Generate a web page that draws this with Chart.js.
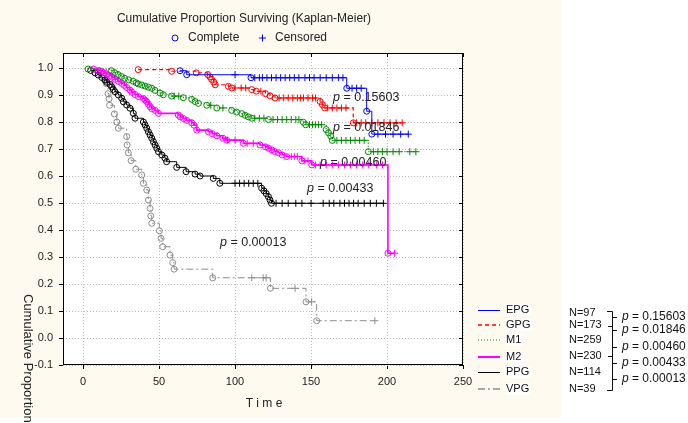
<!DOCTYPE html>
<html>
<head>
<meta charset="utf-8">
<script src="https://cdn.jsdelivr.net/npm/chart.js@4.4.1/dist/chart.umd.min.js"></script>
<style>
  body { margin: 0; background: #ffffff; }
  #wrap { width: 688px; height: 423px; }
</style>
</head>
<body>
<div id="wrap"><canvas id="km" width="688" height="423"></canvas></div>
<script>
// groups and their sizes
var groupNames = ['EPG', 'GPG', 'M1', 'M2', 'PPG', 'VPG'];
var groupN = [97, 173, 259, 230, 114, 39];
var pairP = ['0.15603', '0.01846', '0.00460', '0.00433', '0.00013'];

// tick labels
var xTicks = [0, 50, 100, 150, 200, 250];
var yTicks = [-0.1, 0.0, 0.1, 0.2, 0.3, 0.4, 0.5, 0.6, 0.7, 0.8, 0.9, 1.0];

// EPG
var epgTime = [63.8, 68.2, 110.5, 173.5, 186.6, 190];
var epgSurv = [0.990, 0.975, 0.964, 0.925, 0.840, 0.755];
var epgCens = [100, 113, 116, 118, 121, 124, 127, 130, 133, 136, 139, 142, 146, 149, 152, 156, 160, 164, 168, 171, 177, 180, 183, 194, 199, 204, 209, 214];

// GPG
var gpgTime = [36.3, 58.3, 74.5, 82, 83.5, 84.6, 86, 87, 95.6, 97.8, 111, 114, 120, 123, 126.3, 156, 157.5, 159, 177.8];
var gpgSurv = [0.994, 0.988, 0.982, 0.976, 0.967, 0.958, 0.948, 0.938, 0.932, 0.926, 0.920, 0.914, 0.905, 0.897, 0.889, 0.876, 0.864, 0.852, 0.797];
var gpgCens = [100, 104, 107, 117, 129, 132, 135, 138, 141, 143, 145, 148, 151, 153, 161, 164, 167, 170, 173, 180, 183, 186, 190, 194, 198, 202, 206, 210];

// M1
var m1Time = [3.3, 18.6, 20.8, 23, 25.2, 27.4, 30, 32.9, 35, 36.4, 38.6, 40.8, 43, 45.2, 47.4, 50.7, 52.8, 58.3, 66, 71.5, 73.7, 75.9, 81.4, 88, 97.8, 101, 104.4, 106.6, 108.8, 111, 122, 145, 146.5, 160, 161.5, 163, 164, 187.7];
var m1Surv = [0.996, 0.990, 0.983, 0.976, 0.969, 0.962, 0.956, 0.951, 0.945, 0.941, 0.937, 0.933, 0.929, 0.925, 0.917, 0.907, 0.901, 0.896, 0.890, 0.884, 0.876, 0.869, 0.862, 0.852, 0.843, 0.837, 0.831, 0.825, 0.819, 0.814, 0.809, 0.799, 0.790, 0.772, 0.760, 0.748, 0.732, 0.690];
var m1Cens = [60, 63, 84, 92, 113, 116, 119, 125, 128, 131, 134, 137, 140, 142, 149, 151, 153, 155, 157, 167, 170, 173, 176, 179, 182, 185, 191, 194, 197, 200, 204, 208, 215, 219];

// M2
var m2Time = [6.8, 10, 12.3, 14, 15.6, 17.5, 18.9, 21, 23, 25.4, 27, 28.7, 30.9, 32, 34.2, 36.4, 39.7, 40.8, 41.9, 43, 44.1, 45.2, 47.4, 49.6, 62.7, 64, 66, 68.2, 71.5, 73, 74.8, 82.5, 85, 88, 92, 94.5, 105.5, 116.4, 120, 122, 124.1, 126, 128.5, 131, 134, 144, 150.5, 200.6];
var m2Surv = [0.996, 0.991, 0.987, 0.982, 0.978, 0.972, 0.966, 0.958, 0.951, 0.943, 0.936, 0.928, 0.918, 0.910, 0.902, 0.894, 0.887, 0.881, 0.875, 0.866, 0.857, 0.849, 0.843, 0.832, 0.826, 0.819, 0.813, 0.806, 0.797, 0.788, 0.770, 0.764, 0.757, 0.749, 0.740, 0.733, 0.721, 0.715, 0.708, 0.703, 0.697, 0.691, 0.686, 0.678, 0.672, 0.656, 0.641, 0.314];
var m2Cens = [95, 100, 108, 112, 137, 139, 141, 146, 148, 153, 156, 160, 164, 168, 172, 176, 180, 184, 188, 193, 197, 205];

// PPG
var ppgTime = [5, 7.9, 10, 12.3, 14.5, 15.6, 17.8, 18.9, 19.9, 21, 23.2, 25.4, 26.5, 28.7, 30.9, 33.1, 34.2, 39.7, 40.8, 41.9, 43, 44.1, 45.2, 46.3, 47.4, 48.5, 49.6, 51.8, 53.9, 55, 61.6, 67.8, 73.7, 77, 85.7, 90, 117.5, 119, 120.5, 122, 123, 124];
var ppgSurv = [0.991, 0.982, 0.974, 0.965, 0.956, 0.947, 0.939, 0.930, 0.921, 0.912, 0.900, 0.888, 0.875, 0.863, 0.851, 0.832, 0.814, 0.800, 0.789, 0.777, 0.764, 0.752, 0.740, 0.727, 0.715, 0.703, 0.690, 0.678, 0.666, 0.653, 0.632, 0.616, 0.607, 0.600, 0.591, 0.573, 0.555, 0.545, 0.535, 0.523, 0.511, 0.499];
var ppgCens = [100, 103, 106, 109, 112, 115, 127, 131, 135, 140, 144, 150, 158, 162, 165, 169, 172, 175, 178, 181, 185, 189, 193, 197.6];

// VPG
var vpgTime = [11, 13.2, 14.3, 15.3, 16.4, 17.1, 17.5, 20.6, 22.2, 23.2, 28.7, 29.0, 29.8, 31.6, 34.7, 38.6, 39.7, 41.9, 43, 44.1, 44.6, 45.2, 50.2, 51.3, 52.4, 57.2, 59, 59.9, 85.3, 123.3, 146.7, 153.7];
var vpgSurv = [0.990, 0.970, 0.954, 0.942, 0.905, 0.886, 0.862, 0.830, 0.800, 0.777, 0.746, 0.715, 0.686, 0.657, 0.625, 0.604, 0.573, 0.548, 0.511, 0.480, 0.452, 0.425, 0.397, 0.369, 0.338, 0.307, 0.279, 0.255, 0.223, 0.184, 0.134, 0.064];
var vpgCens = [111, 118.5, 120.5, 139.5, 150.4, 192];

var lineColors = ['#0000ff', '#ff0000', '#008a00', '#ff00ff', '#000000', '#8c8c8c'];
var lineDash = [[], [4, 3], [1, 2], [], [], [7, 3, 2, 3]];
var lineWidths = [1, 1.2, 1.2, 1.6, 1, 1];
var legendWidths = [1, 1.6, 1.2, 2, 1, 1.4];

// merge events and censored times into one step series
function kmPoints(times, surv, cens) {
    var all = [];
    for (var i = 0; i < times.length; i++) all.push({ x: times[i], y: surv[i], kind: 'event' });
    for (var j = 0; j < cens.length; j++) all.push({ x: cens[j], y: null, kind: 'cens' });
    all.sort(function (a, b) { return a.x - b.x || (a.kind === 'event' ? -1 : 1); });
    var s = 1;
    all.forEach(function (p) {
        if (p.kind === 'event') s = p.y; else p.y = s;
    });
    return all;
}

var series = [
    kmPoints(epgTime, epgSurv, epgCens),
    kmPoints(gpgTime, gpgSurv, gpgCens),
    kmPoints(m1Time, m1Surv, m1Cens),
    kmPoints(m2Time, m2Surv, m2Cens),
    kmPoints(ppgTime, ppgSurv, ppgCens),
    kmPoints(vpgTime, vpgSurv, vpgCens)
];

var datasets = [];
for (var k = 0; k < series.length; k++) {
    datasets.push({
        label: groupNames[k],
        data: series[k],
        stepped: true,
        borderColor: lineColors[k],
        borderWidth: lineWidths[k],
        borderDash: lineDash[k],
        pointStyle: function (c) { return c.raw && c.raw.kind === 'cens' ? 'cross' : 'circle'; },
        pointRadius: function (c) { return c.raw && c.raw.kind === 'cens' ? 3.5 : 3; },
        pointBorderWidth: 1,
        pointBorderColor: lineColors[k],
        pointBackgroundColor: 'rgba(0,0,0,0)',
        fill: false
    });
}

var FONT = '"Liberation Sans", Arial, sans-serif';

function drawCross(ctx, x, y, r, color) {
    ctx.strokeStyle = color;
    ctx.lineWidth = 1;
    ctx.setLineDash([]);
    ctx.beginPath();
    ctx.moveTo(x - r, y); ctx.lineTo(x + r, y);
    ctx.moveTo(x, y - r); ctx.lineTo(x, y + r);
    ctx.stroke();
}

function drawP(ctx, txt, x, y, size) {
    ctx.font = 'italic ' + size + 'px ' + FONT;
    ctx.fillText('p', x, y);
    var w = ctx.measureText('p').width;
    ctx.font = size + 'px ' + FONT;
    ctx.fillText(' = ' + txt, x + w, y);
}

var decor = {
    id: 'decor',
    beforeDraw: function (chart) {
        var ctx = chart.ctx, a = chart.chartArea;
        ctx.save();
        ctx.fillStyle = '#ffffff';
        ctx.fillRect(0, 0, chart.width, chart.height);
        ctx.fillStyle = '#fffaf0';
        ctx.fillRect(0, 0, 562, 417);
        ctx.fillStyle = '#ffffff';
        ctx.fillRect(a.left, a.top, a.right - a.left, a.bottom - a.top);
        ctx.restore();
    },
    afterDraw: function (chart) {
        var ctx = chart.ctx, a = chart.chartArea;
        var xs = chart.scales.x, ys = chart.scales.y;
        ctx.save();
        // frame and inner ticks on right / top
        ctx.strokeStyle = '#000';
        ctx.lineWidth = 1;
        ctx.setLineDash([]);
        ctx.strokeRect(a.left + 0.5, a.top + 0.5, a.right - a.left - 1, a.bottom - a.top - 1);
        ctx.beginPath();
        yTicks.forEach(function (v) {
            var py = Math.round(ys.getPixelForValue(v)) + 0.5;
            ctx.moveTo(a.right - 4, py); ctx.lineTo(a.right, py);
        });
        xTicks.forEach(function (v) {
            var px = Math.round(xs.getPixelForValue(v)) + 0.5;
            ctx.moveTo(px, a.top); ctx.lineTo(px, a.top + 4);
        });
        ctx.stroke();

        // title and marker legend
        ctx.fillStyle = '#222';
        ctx.font = '12px ' + FONT;
        ctx.textBaseline = 'middle';
        ctx.textAlign = 'center';
        ctx.fillText('Cumulative Proportion Surviving (Kaplan-Meier)', 244, 19);
        ctx.textAlign = 'left';
        ctx.strokeStyle = '#0000ff';
        ctx.beginPath(); ctx.arc(175, 38, 3, 0, Math.PI * 2); ctx.stroke();
        ctx.fillText('Complete', 188, 38);
        drawCross(ctx, 262.5, 38, 3.5, '#0000ff');
        ctx.fillStyle = '#222';
        ctx.fillText('Censored', 275, 38);

        // axis titles
        ctx.textAlign = 'center';
        ctx.fillText('T i m e', 264, 404);
        ctx.save();
        ctx.translate(28, 294);
        ctx.rotate(Math.PI / 2);
        ctx.textAlign = 'left';
        ctx.font = '13px ' + FONT;
        ctx.fillText('Cumulative Proportion', 0, 0);
        ctx.restore();

        // p-values inside the plot
        var inP = [[333, 98], [333, 128], [320, 163], [307, 189], [220, 243]];
        ctx.textAlign = 'left';
        ctx.fillStyle = '#222';
        for (var i = 0; i < pairP.length; i++) drawP(ctx, pairP[i], inP[i][0], inP[i][1], 12.5);

        // line legend
        var legY = [310, 325, 340, 357, 372, 389];
        ctx.font = '11px ' + FONT;
        for (var g = 0; g < groupNames.length; g++) {
            var off = legendWidths[g] === 1 ? 0.5 : 0;
            ctx.strokeStyle = lineColors[g];
            ctx.lineWidth = legendWidths[g];
            ctx.setLineDash(lineDash[g]);
            ctx.beginPath();
            ctx.moveTo(478, legY[g] + off); ctx.lineTo(500, legY[g] + off);
            ctx.stroke();
            var tw = ctx.measureText(groupNames[g]).width;
            ctx.fillStyle = '#ffffff';
            ctx.fillRect(505, legY[g] - 6, tw + 3, 12);
            ctx.fillStyle = '#111';
            ctx.fillText(groupNames[g], 506, legY[g]);
        }
        ctx.setLineDash([]);

        // N labels, bracket and pairwise p-values
        var nY = [313, 325, 340, 356, 372, 389];
        ctx.font = '11px ' + FONT;
        ctx.fillStyle = '#111';
        for (var n = 0; n < groupN.length; n++) ctx.fillText('N=' + groupN[n], 569, nY[n]);
        ctx.strokeStyle = '#111';
        ctx.lineWidth = 1;
        ctx.beginPath();
        ctx.moveTo(607, 311.5); ctx.lineTo(612.5, 311.5); ctx.lineTo(612.5, 390.5); ctx.lineTo(607, 390.5);
        [326, 356].forEach(function (yy) { ctx.moveTo(608, yy + 0.5); ctx.lineTo(612.5, yy + 0.5); });
        var pY = [317, 330, 347, 363, 379];
        pY.forEach(function (yy) { ctx.moveTo(612.5, yy + 0.5); ctx.lineTo(617, yy + 0.5); });
        ctx.stroke();
        for (var q = 0; q < pairP.length; q++) drawP(ctx, pairP[q], 622, pY[q], 12);
        ctx.restore();
    }
};

var ctx = document.getElementById('km');
var chart = new Chart(ctx, {
    type: 'line',
    data: { datasets: datasets },
    options: {
        responsive: false,
        animation: false,
        layout: { padding: { left: 0, top: 53, right: 225, bottom: 0 } },
        plugins: { legend: { display: false }, tooltip: { enabled: false } },
        scales: {
            x: {
                type: 'linear',
                min: -13.2,
                max: 250,
                afterBuildTicks: function (s) { s.ticks = xTicks.map(function (v) { return { value: v }; }); },
                afterFit: function (s) { s.height = 58; },
                grid: { color: '#bdbdbd', tickColor: '#000', tickLength: 4 },
                border: { display: false, dash: [1, 2] },
                ticks: { color: '#222', padding: 6, maxRotation: 0, font: { size: 11, family: FONT } }
            },
            y: {
                type: 'linear',
                min: -0.1,
                max: 1.0556,
                afterBuildTicks: function (s) { s.ticks = yTicks.map(function (v) { return { value: v }; }); },
                afterFit: function (s) { s.width = 63; },
                grid: { color: '#bdbdbd', tickColor: '#000', tickLength: 4 },
                border: { display: false, dash: [1, 2] },
                ticks: {
                    color: '#222', padding: 6, font: { size: 11, family: FONT },
                    callback: function (v) { return Number(v).toFixed(1); }
                }
            }
        }
    },
    plugins: [decor]
});
</script>
</body>
</html>
